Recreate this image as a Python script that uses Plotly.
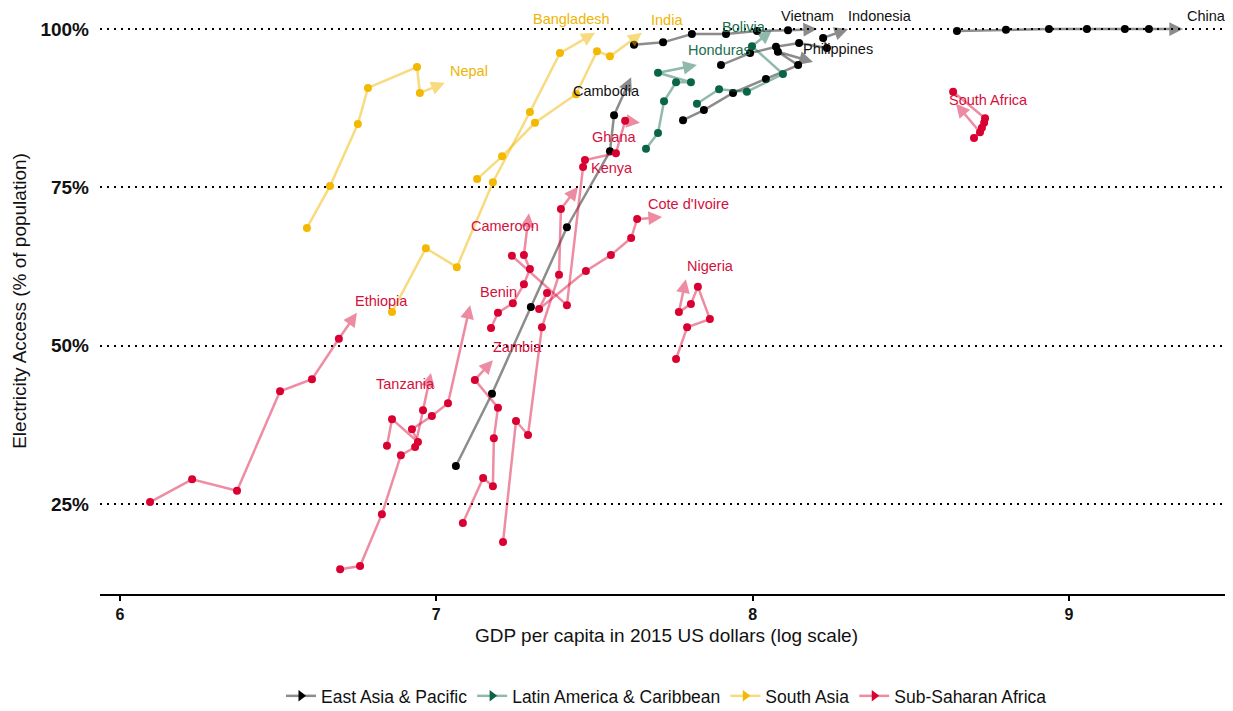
import plotly.graph_objects as go

# ---------------- data: ln(GDP per capita, 2015 US$) and electricity access (%) ----------------
# East Asia & Pacific
china_gdp = [8.646, 8.801, 8.937, 9.057, 9.177, 9.253, 9.361]
china_acc = [99.7, 99.9, 100.0, 100.0, 100.0, 100.0, 100.0]
vietnam_gdp = [7.625, 7.717, 7.808, 7.916, 8.014, 8.112, 8.204]
vietnam_acc = [97.5, 97.9, 99.2, 99.2, 99.7, 99.8, 100.0]
indonesia_gdp = [7.900, 7.992, 8.074, 8.147, 8.235, 8.223, 8.302]
indonesia_acc = [94.3, 96.2, 97.2, 97.8, 97.0, 98.6, 100.0]
philippines_gdp = [7.780, 7.846, 7.938, 8.042, 8.144, 8.080, 8.191]
philippines_acc = [85.6, 87.2, 89.9, 92.1, 94.3, 96.4, 94.8]
cambodia_gdp = [7.062, 7.176, 7.299, 7.413, 7.549, 7.562, 7.616]
cambodia_acc = [31.0, 42.4, 56.1, 68.7, 80.7, 86.4, 92.4]
# Latin America & Caribbean
honduras_gdp = [7.663, 7.701, 7.720, 7.758, 7.805, 7.701, 7.824]
honduras_acc = [81.1, 83.6, 88.6, 91.6, 91.6, 93.1, 94.3]
bolivia_gdp = [7.824, 7.894, 7.982, 8.096, 7.998, 8.061]
bolivia_acc = [88.2, 90.5, 90.1, 92.9, 97.3, 99.8]
# South Asia
nepal_gdp = [6.591, 6.664, 6.752, 6.784, 6.939, 6.948, 7.027]
nepal_acc = [68.6, 75.2, 85.0, 90.7, 94.0, 89.9, 91.5]
bangladesh_gdp = [6.860, 6.967, 7.065, 7.179, 7.296, 7.391, 7.502]
bangladesh_acc = [55.3, 65.4, 62.4, 75.8, 86.9, 96.2, 99.4]
india_gdp = [7.129, 7.208, 7.312, 7.442, 7.508, 7.549, 7.650]
india_acc = [76.3, 79.9, 85.2, 89.7, 96.5, 95.7, 99.4]
# Sub-Saharan Africa
ethiopia_gdp = [6.095, 6.228, 6.370, 6.506, 6.607, 6.692, 6.749]
ethiopia_acc = [25.3, 28.9, 27.1, 42.8, 44.7, 51.1, 55.2]
tanzania_gdp = [6.696, 6.759, 6.828, 6.888, 6.933, 6.958, 6.983]
tanzania_acc = [14.7, 15.2, 23.4, 32.7, 34.0, 39.8, 45.7]
benin_gdp = [6.844, 6.860, 6.942, 6.923, 6.986, 7.037, 7.107]
benin_acc = [34.2, 38.4, 34.8, 36.8, 38.9, 40.9, 56.4]
zambia_gdp = [7.084, 7.148, 7.179, 7.182, 7.195, 7.122, 7.179]
zambia_acc = [22.0, 29.1, 27.8, 35.4, 40.2, 44.6, 47.7]
kenya_gdp = [7.211, 7.252, 7.290, 7.334, 7.388, 7.394, 7.448]
kenya_acc = [19.0, 38.1, 35.9, 52.9, 61.2, 71.6, 75.1]
cameroon_gdp = [7.173, 7.195, 7.242, 7.277, 7.296, 7.277, 7.293]
cameroon_acc = [52.8, 55.2, 56.7, 59.7, 62.1, 64.3, 70.9]
ghana_gdp = [7.239, 7.413, 7.464, 7.470, 7.568, 7.597, 7.644]
ghana_acc = [64.2, 56.4, 78.2, 79.3, 80.4, 85.5, 85.2]
cote_gdp = [7.350, 7.325, 7.473, 7.552, 7.616, 7.635, 7.714]
cote_acc = [58.3, 55.8, 61.8, 64.3, 67.0, 70.0, 70.3]
nigeria_gdp = [7.758, 7.793, 7.865, 7.827, 7.805, 7.767, 7.789]
nigeria_acc = [47.9, 52.9, 54.2, 59.3, 56.6, 55.3, 60.5]
safrica_gdp = [8.634, 8.735, 8.732, 8.725, 8.700, 8.719, 8.643]
safrica_acc = [90.1, 85.9, 85.2, 84.4, 82.8, 83.7, 88.2]

regions = ["East Asia & Pacific", "Latin America & Caribbean", "South Asia", "Sub-Saharan Africa"]

countries = [
    ("China", "East Asia & Pacific", china_gdp, china_acc),
    ("Vietnam", "East Asia & Pacific", vietnam_gdp, vietnam_acc),
    ("Indonesia", "East Asia & Pacific", indonesia_gdp, indonesia_acc),
    ("Philippines", "East Asia & Pacific", philippines_gdp, philippines_acc),
    ("Cambodia", "East Asia & Pacific", cambodia_gdp, cambodia_acc),
    ("Honduras", "Latin America & Caribbean", honduras_gdp, honduras_acc),
    ("Bolivia", "Latin America & Caribbean", bolivia_gdp, bolivia_acc),
    ("Nepal", "South Asia", nepal_gdp, nepal_acc),
    ("Bangladesh", "South Asia", bangladesh_gdp, bangladesh_acc),
    ("India", "South Asia", india_gdp, india_acc),
    ("Ethiopia", "Sub-Saharan Africa", ethiopia_gdp, ethiopia_acc),
    ("Tanzania", "Sub-Saharan Africa", tanzania_gdp, tanzania_acc),
    ("Benin", "Sub-Saharan Africa", benin_gdp, benin_acc),
    ("Zambia", "Sub-Saharan Africa", zambia_gdp, zambia_acc),
    ("Kenya", "Sub-Saharan Africa", kenya_gdp, kenya_acc),
    ("Cameroon", "Sub-Saharan Africa", cameroon_gdp, cameroon_acc),
    ("Ghana", "Sub-Saharan Africa", ghana_gdp, ghana_acc),
    ("Cote d'Ivoire", "Sub-Saharan Africa", cote_gdp, cote_acc),
    ("Nigeria", "Sub-Saharan Africa", nigeria_gdp, nigeria_acc),
    ("South Africa", "Sub-Saharan Africa", safrica_gdp, safrica_acc),
]

y_ticks = [25, 50, 75, 100]
y_ticktext = ["25%", "50%", "75%", "100%"]
x_ticks = [6, 7, 8, 9]

# ---------------- styling ----------------
marker_color = {
    "East Asia & Pacific": "#000000",
    "Latin America & Caribbean": "#0A6548",
    "South Asia": "#F3B800",
    "Sub-Saharan Africa": "#D90032",
}
line_color = {
    "East Asia & Pacific": "rgba(0,0,0,0.45)",
    "Latin America & Caribbean": "rgba(10,101,72,0.45)",
    "South Asia": "rgba(243,184,0,0.5)",
    "Sub-Saharan Africa": "rgba(217,0,50,0.45)",
}
text_color = {
    "East Asia & Pacific": "#111111",
    "Latin America & Caribbean": "#1B6E50",
    "South Asia": "#F0B400",
    "Sub-Saharan Africa": "#D4103C",
}
# label pixel offsets from the arrow tip (xshift, yshift)
label_shift = {
    "China": (23, 13), "Vietnam": (-10, 13), "Indonesia": (32, 13), "Philippines": (25, 13),
    "Cambodia": (-25, -14), "Honduras": (23, 15), "Bolivia": (-28, 3), "Nepal": (24, 12),
    "Bangladesh": (-24, 14), "India": (25, 13), "Ethiopia": (25, 12), "Tanzania": (-25, -11),
    "Benin": (28, 13), "Zambia": (25, 13), "Kenya": (34, 19), "Cameroon": (-24, -13),
    "Ghana": (-26, -14), "Cote d'Ivoire": (26, 13), "Nigeria": (25, 13), "South Africa": (33, 4),
}

FONT = "Liberation Sans, Arial, sans-serif"

fig = go.Figure()
annotations = []

for name, reg, gdp, acc in countries:
    fig.add_trace(go.Scatter(
        x=gdp[:-1], y=acc[:-1], mode="lines+markers",
        line=dict(color=line_color[reg], width=2.5),
        marker=dict(color=marker_color[reg], size=8),
        showlegend=False, hoverinfo="skip",
    ))
    annotations.append(dict(
        x=gdp[-1], y=acc[-1], ax=gdp[-2], ay=acc[-2],
        xref="x", yref="y", axref="x", ayref="y",
        text="", showarrow=True, arrowhead=2, arrowsize=1.1, arrowwidth=2.5,
        arrowcolor=line_color[reg], standoff=0, startstandoff=0,
    ))
    dx, dy = label_shift[name]
    annotations.append(dict(
        x=gdp[-1], y=acc[-1], xref="x", yref="y", text=name, showarrow=False,
        xshift=dx, yshift=dy, font=dict(family=FONT, size=14.5, color=text_color[reg]),
    ))

for reg in regions:
    fig.add_trace(go.Scatter(
        x=[None], y=[None], mode="lines+markers", name=reg,
        line=dict(color=line_color[reg], width=2.5),
        marker=dict(color=marker_color[reg], size=10, symbol="triangle-right"),
        showlegend=True,
    ))

fig.update_layout(
    width=1233, height=711,
    margin=dict(l=92, r=8, t=0, b=125, autoexpand=False),
    paper_bgcolor="white", plot_bgcolor="white",
    font=dict(family=FONT, color="#111111"),
    annotations=annotations,
    showlegend=True,
    legend=dict(orientation="h", x=0.5, xanchor="center", y=-0.174, yanchor="middle",
                font=dict(family=FONT, size=17.5, color="#111111"), itemwidth=30),
    xaxis=dict(
        range=[5.9368, 9.5188], tickvals=x_ticks, ticktext=[str(v) for v in x_ticks],
        showgrid=False, zeroline=False, showline=True, linecolor="black", linewidth=1.5,
        ticks="outside", ticklen=5, tickwidth=1.5, tickcolor="black", automargin=False,
        tickfont=dict(family=FONT, size=16, color="#111111", weight="bold"),
        title=dict(text="GDP per capita in 2015 US dollars (log scale)",
                   font=dict(family=FONT, size=19, color="#111111"), standoff=7),
    ),
    yaxis=dict(
        range=[10.79, 103.32], tickvals=y_ticks, ticktext=y_ticktext,
        showgrid=True, gridcolor="black", griddash="2px,5px", gridwidth=2,
        zeroline=False, showline=False, ticks="", automargin=False,
        ticklabelstandoff=10,
        tickfont=dict(family=FONT, size=19, color="#111111", weight="bold"),
        title=dict(text="Electricity Access (% of population)",
                   font=dict(family=FONT, size=19, color="#111111"), standoff=8),
    ),
)

fig.write_html("out.html")
